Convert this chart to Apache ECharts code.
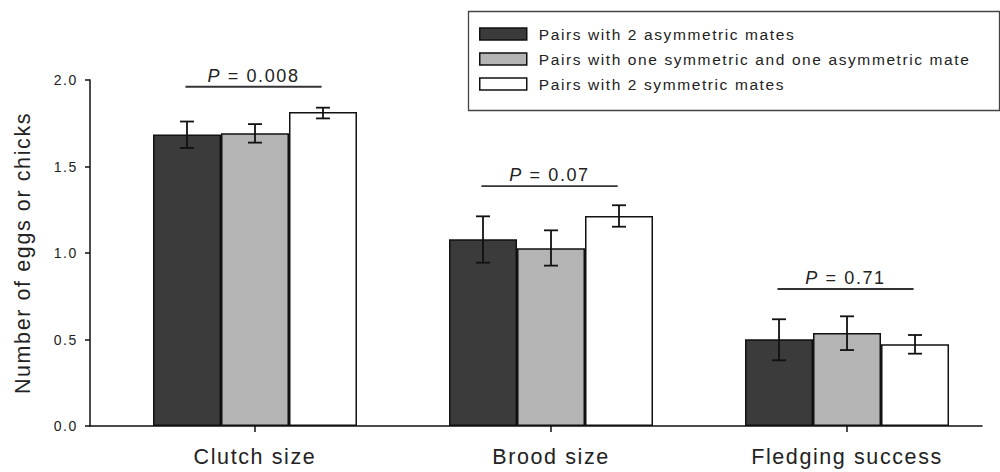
<!DOCTYPE html>
<html><head><meta charset="utf-8">
<script src="https://cdn.jsdelivr.net/npm/echarts@6/dist/echarts.min.js"></script>
<style>html,body{margin:0;padding:0;background:#fff}#c{width:1000px;height:472px}#c text{letter-spacing:1.6px}</style>
</head><body><div id="c"></div>
<script>
var categories = ['Clutch size', 'Brood size', 'Fledging success'];
var seriesNames = ['Pairs with 2 asymmetric mates', 'Pairs with one symmetric and one asymmetric mate', 'Pairs with 2 symmetric mates'];
var asymValues = [1.685, 1.079, 0.501];
var mixedValues = [1.692, 1.027, 0.538];
var symValues = [1.815, 1.214, 0.472];
var asymErrLow = [1.607, 0.944, 0.380];
var asymErrHigh = [1.760, 1.212, 0.617];
var mixedErrLow = [1.638, 0.927, 0.439];
var mixedErrHigh = [1.745, 1.131, 0.634];
var symErrLow = [1.778, 1.152, 0.418];
var symErrHigh = [1.840, 1.276, 0.526];
var pLabels = ['0.008', '0.07', '0.71'];
var pLineY = [1.961, 1.387, 0.792];
var yTicks = [0, 0.5, 1.0, 1.5, 2.0];

var FONT = '"Liberation Sans", Arial, sans-serif';
var LS = 1.6;
var colors = ['#3b3b3b', '#b4b4b4', '#ffffff'];
var barW = 68;
var vals = [asymValues, mixedValues, symValues];
var lows = [asymErrLow, mixedErrLow, symErrLow];
var highs = [asymErrHigh, mixedErrHigh, symErrHigh];
var xPos = categories.map(function (c, i) { return i + 1; });

var mctx = document.createElement('canvas').getContext('2d');
function tw(t, font) { mctx.font = font; return mctx.measureText(t).width + LS * t.length; }

var series = [];
vals.forEach(function (v, s) {
  series.push({
    name: seriesNames[s], type: 'bar', barWidth: barW, barGap: '0%',
    itemStyle: { color: colors[s], borderColor: '#111', borderWidth: 1.5 },
    data: v.map(function (y, i) { return [xPos[i], y]; }),
    z: 2
  });
});
vals.forEach(function (v, s) {
  series.push({
    type: 'custom', silent: true, z: 5,
    data: v.map(function (y, i) { return [xPos[i], lows[s][i], highs[s][i]]; }),
    renderItem: (function (s) { return function (params, api) {
      var lo = api.coord([api.value(0), api.value(1)]);
      var hi = api.coord([api.value(0), api.value(2)]);
      var x = lo[0] + (s - 1) * barW;
      var cw = 7;
      var st = { stroke: '#111', lineWidth: 1.8 };
      return { type: 'group', children: [
        { type: 'line', shape: { x1: x, y1: lo[1], x2: x, y2: hi[1] }, style: st },
        { type: 'line', shape: { x1: x - cw, y1: lo[1], x2: x + cw, y2: lo[1] }, style: st },
        { type: 'line', shape: { x1: x - cw, y1: hi[1], x2: x + cw, y2: hi[1] }, style: st }
      ]};
    }; })(s)
  });
});
var PF = '18px ' + FONT;
var PFI = 'italic 18px ' + FONT;
series.push({
  type: 'custom', silent: true, z: 6,
  data: pLabels.map(function (p, i) { return [xPos[i], pLineY[i], i]; }),
  renderItem: function (params, api) {
    var idx = api.value(2);
    var a = api.coord([api.value(0) - 0.235, api.value(1)]);
    var b = api.coord([api.value(0) + 0.225, api.value(1)]);
    var cx = (a[0] + b[0]) / 2;
    var rest = '= ' + pLabels[idx];
    var wP = tw('P', PFI), wSp = tw(' ', PF), wR = tw(rest, PF);
    var left = cx - (wP + wSp + wR) / 2;
    var ty = a[1] - 2;
    return { type: 'group', children: [
      { type: 'line', shape: { x1: a[0], y1: a[1], x2: b[0], y2: b[1] }, style: { stroke: '#333', lineWidth: 1.8 } },
      { type: 'text', x: left, y: ty, style: { text: 'P', align: 'left', verticalAlign: 'bottom', font: PFI, fill: '#222' } },
      { type: 'text', x: left + wP + wSp, y: ty, style: { text: rest, align: 'left', verticalAlign: 'bottom', font: PF, fill: '#222' } }
    ]};
  }
});

var chart = echarts.init(document.getElementById('c'), null, { renderer: 'svg' });
chart.setOption({
  animation: false,
  backgroundColor: '#fff',
  textStyle: { fontFamily: FONT },
  grid: { left: 90, right: 18, top: 80, bottom: 46, containLabel: false },
  legend: {
    data: seriesNames, orient: 'vertical', left: 474, top: 21,
    icon: 'rect',
    itemWidth: 47, itemHeight: 12, itemGap: 9,
    selectedMode: false,
    itemStyle: { borderColor: '#111', borderWidth: 1.5 },
    textStyle: { fontSize: 15.5, color: '#222', padding: [0, 0, 0, 7] }
  },
  graphic: [{ type: 'rect', left: 466, top: 9, shape: { width: 531, height: 99 }, style: { fill: 'none', stroke: '#444', lineWidth: 1.3 }, z: 1 }],
  xAxis: {
    type: 'value', min: 0.4426, max: 3.456,
    splitLine: { show: false },
    axisLine: { lineStyle: { color: '#111', width: 1.5 } },
    axisTick: { show: true, customValues: xPos, length: 6, lineStyle: { color: '#111', width: 1.5 } },
    axisLabel: { customValues: xPos, margin: 20, fontSize: 21.5, color: '#222',
      formatter: function (v) { return categories[Math.round(v) - 1] || ''; } }
  },
  yAxis: {
    type: 'value', min: yTicks[0], max: yTicks[yTicks.length - 1], interval: 0.5,
    name: 'Number of eggs or chicks', nameLocation: 'middle', nameGap: 56,
    nameTextStyle: { fontSize: 21.5, color: '#222' },
    splitLine: { show: false },
    axisLine: { show: true, lineStyle: { color: '#111', width: 1.5 } },
    axisTick: { show: true, length: 5, lineStyle: { color: '#111', width: 1.5 } },
    axisLabel: { fontSize: 14, color: '#222', margin: 12, formatter: function (v) { return v.toFixed(1); } }
  },
  series: series
});
</script></body></html>
